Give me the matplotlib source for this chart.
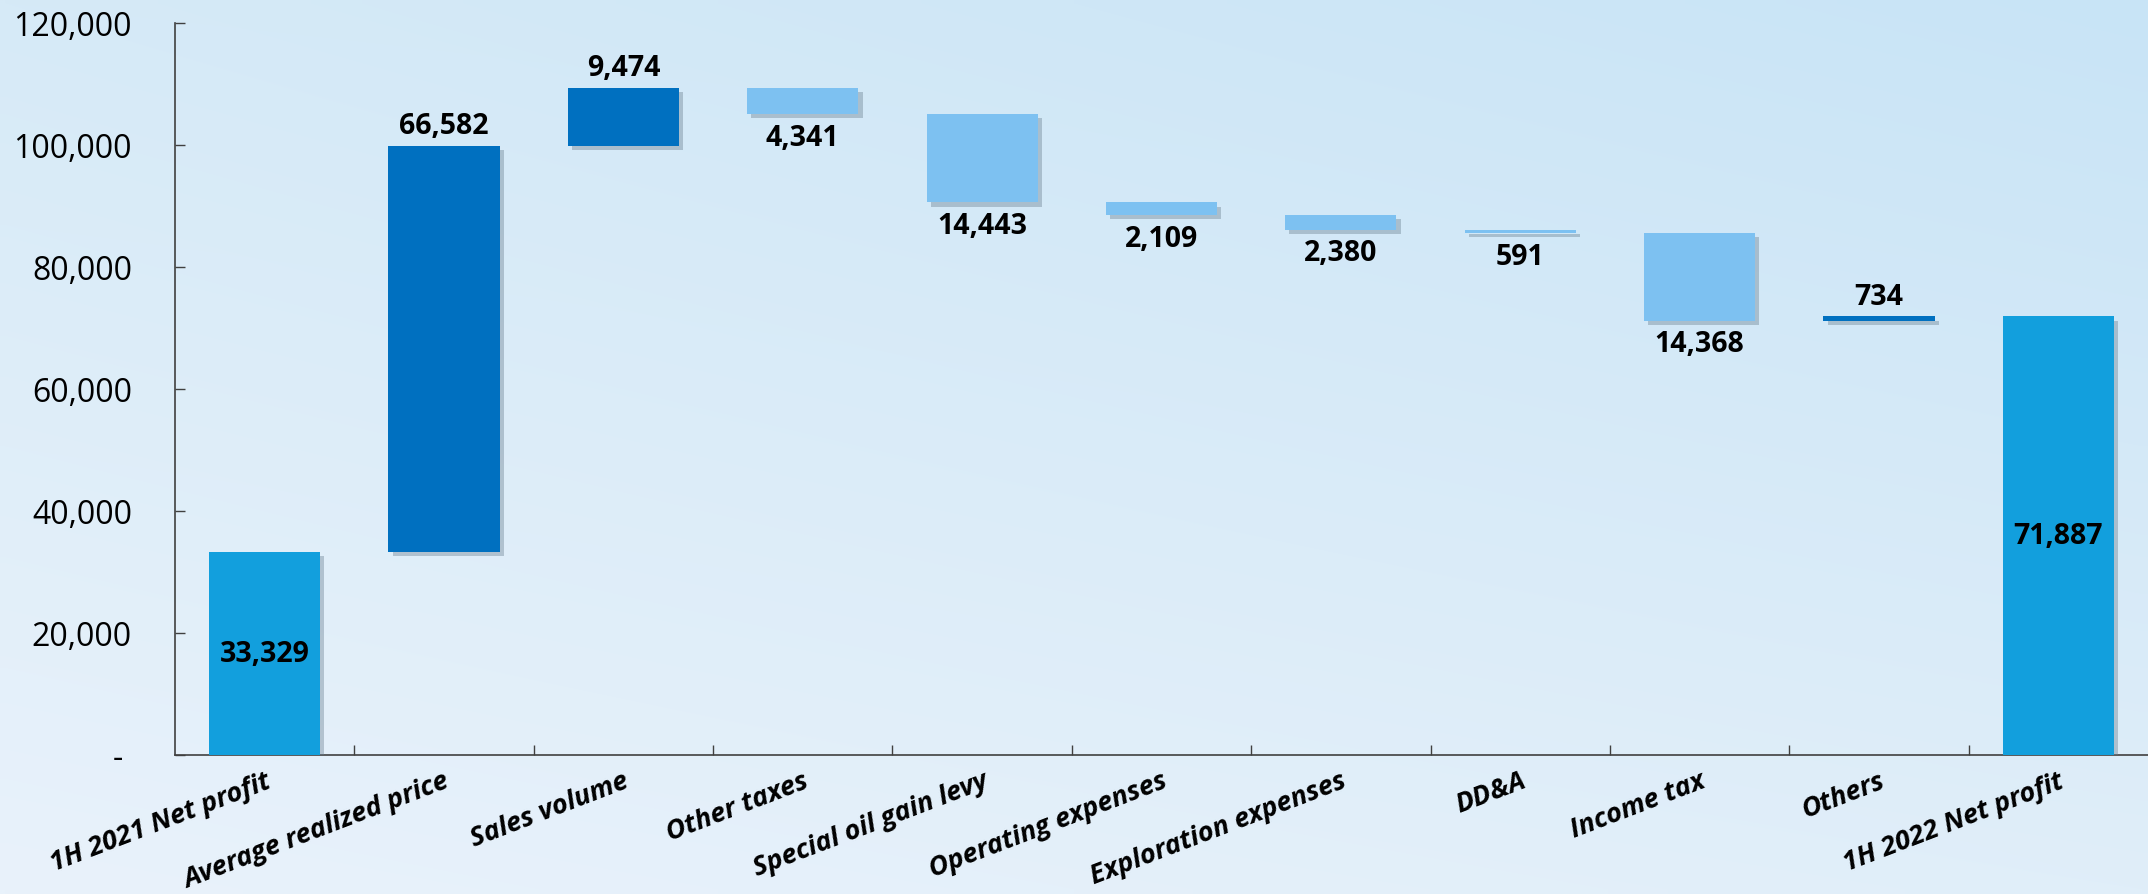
import numpy as np
import matplotlib
matplotlib.use("Agg")
import matplotlib.pyplot as plt
import matplotlib.patheffects as pe
from matplotlib.colors import to_rgb
from matplotlib.ticker import FuncFormatter

categories = ["1H 2021 Net profit", "Average realized price", "Sales volume",
              "Other taxes", "Special oil gain levy", "Operating expenses",
              "Exploration expenses", "DD&A", "Income tax", "Others",
              "1H 2022 Net profit"]
values = [33329, 66582, 9474, -4341, -14443, -2109, -2380, -591, -14368, 734, 71887]
is_total = [True, False, False, False, False, False, False, False, False, False, True]
y_ticks = [0, 20000, 40000, 60000, 80000, 100000, 120000]

C_TOTAL = "#129FDD"
C_UP = "#0070C0"
C_DOWN = "#7DC1F1"

plt.rcParams['font.family'] = ['Open Sans', 'DejaVu Sans']

W, H, DPI = 2148, 895, 100
fig = plt.figure(figsize=(W / DPI, H / DPI), dpi=DPI)

# background gradient
bg = fig.add_axes([0, 0, 1, 1], zorder=-10)
tl, tr = np.array(to_rgb("#D6EAF7")), np.array(to_rgb("#C8E4F6"))
bl, br = np.array(to_rgb("#E9F2FB")), np.array(to_rgb("#E0EEF9"))
u = np.linspace(0, 1, 200)[None, :, None]
v = np.linspace(0, 1, 100)[:, None, None]
img = (1 - v) * ((1 - u) * tl + u * tr) + v * ((1 - u) * bl + u * br)
bg.imshow(img, aspect="auto", extent=[0, 1, 0, 1], interpolation="bilinear")
bg.axis("off")

left = 175 / W
bottom = 1 - 756 / H
top = 1 - 24 / H
ax = fig.add_axes([left, bottom, 1 - left, top - bottom])
ax.set_facecolor("none")

x = np.arange(len(categories))
bottoms, heights, colors = [], [], []
running = 0
for val, tot in zip(values, is_total):
    if tot:
        bottoms.append(0)
        heights.append(val)
        colors.append(C_TOTAL)
        running = val
    else:
        if val >= 0:
            bottoms.append(running)
            colors.append(C_UP)
        else:
            bottoms.append(running + val)
            colors.append(C_DOWN)
        heights.append(abs(val))
        running += val

bars = ax.bar(x, heights, bottom=bottoms, width=0.62, color=colors, zorder=3,
              edgecolor="none")
for b in bars:
    b.set_path_effects([pe.SimplePatchShadow(offset=(3, -3), shadow_rgbFace="#6a7f90", alpha=0.4),
                        pe.Normal()])

VFS = 20.5
for xi, val, tot, b0, h in zip(x, values, is_total, bottoms, heights):
    label = f"{abs(val):,}"
    if tot:
        ax.text(xi, b0 + h / 2, label, ha="center", va="center", fontsize=VFS,
                fontweight="bold", color="black", zorder=5)
    elif val >= 0:
        ax.annotate(label, (xi, b0 + h), xytext=(0, 4), textcoords="offset points",
                    ha="center", va="bottom", fontsize=VFS, fontweight="bold", zorder=5)
    else:
        ax.annotate(label, (xi, b0), xytext=(0, -6), textcoords="offset points",
                    ha="center", va="top", fontsize=VFS, fontweight="bold", zorder=5)

ax.set_xlim(-0.5, len(categories) - 0.5)
ax.set_ylim(0, 120000)
ax.set_yticks(y_ticks)
ax.yaxis.set_major_formatter(FuncFormatter(lambda v, p: "- " if v == 0 else f"{int(v):,}"))
ax.tick_params(axis="y", direction="in", length=7, width=1, color="#404040",
               labelsize=23, pad=31)

ax.set_xticks(x)
ax.set_xticklabels(categories, rotation=21, ha="right", rotation_mode="anchor",
                   fontsize=19.5, fontstyle="italic", fontweight="bold")
ax.tick_params(axis="x", which="major", length=0, pad=9)
ax.set_xticks(np.arange(0.5, len(categories) - 1), minor=True)
ax.tick_params(axis="x", which="minor", direction="in", length=7, width=1, color="#404040")

for s in ["top", "right"]:
    ax.spines[s].set_visible(False)
for s in ["left", "bottom"]:
    ax.spines[s].set_color("#404040")
    ax.spines[s].set_linewidth(1.2)

fig.savefig("out.png", dpi=DPI)
